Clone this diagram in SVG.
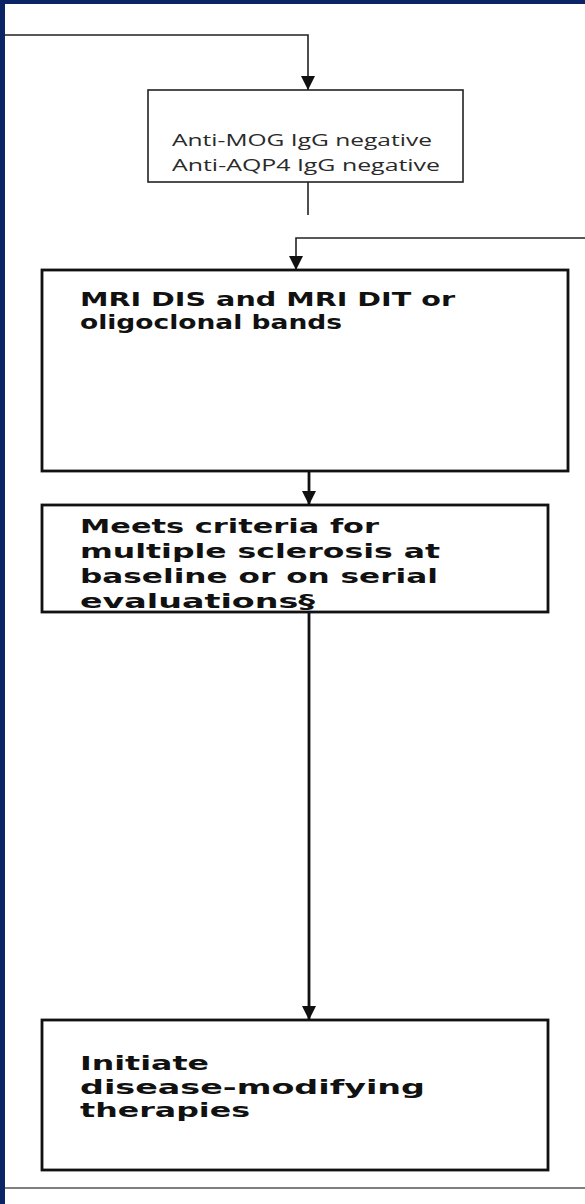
<svg xmlns="http://www.w3.org/2000/svg" width="585" height="1204" viewBox="0 0 585 1204">
  <defs>
    <marker id="arrow" viewBox="0 0 10 10" refX="10" refY="5" markerWidth="14" markerHeight="15" orient="auto" markerUnits="userSpaceOnUse">
      <path d="M0,0 L10,5 L0,10 Z" fill="#111"/>
    </marker>
    <style>
      .frame { fill: #0a2466; }
      .box { fill: #fff; stroke: #222; stroke-width: 1.6; }
      .box-heavy { fill: #fff; stroke: #111; stroke-width: 2.8; }
      .wire { fill: none; stroke: #222; stroke-width: 1.6; }
      .wire-heavy { fill: none; stroke: #111; stroke-width: 2.8; }
      .light { font-family: "Open Sans", "Liberation Sans", sans-serif; font-size: 17px; fill: #2a2a2a; }
      .bold { font-family: "DejaVu Sans", "Liberation Sans", sans-serif; font-size: 20px; font-weight: bold; fill: #111; }
    </style>
  </defs>

  <rect width="585" height="1204" fill="#fff"/>
  <!-- navy page frame -->
  <rect class="frame" x="0" y="0" width="585" height="4"/>
  <rect class="frame" x="0" y="0" width="5" height="1204"/>
  <line x1="5" y1="1188" x2="585" y2="1188" stroke="#555" stroke-width="1.5"/>

  <g id="connectors">
    <path class="wire" d="M5,35 H308 V90" marker-end="url(#arrow)"/>
    <path class="wire" d="M308,182 V215"/>
    <path class="wire" d="M585,238 H296 V270" marker-end="url(#arrow)"/>
    <path class="wire-heavy" d="M309,471 V505" marker-end="url(#arrow)"/>
    <path class="wire-heavy" d="M309,612 V1020" marker-end="url(#arrow)"/>
  </g>

  <g id="antibody-negative">
    <rect class="box" x="148" y="90" width="315" height="92"/>
    <text class="light" x="172" y="146" textLength="260" lengthAdjust="spacingAndGlyphs">Anti-MOG IgG negative</text>
    <text class="light" x="172" y="171" textLength="268" lengthAdjust="spacingAndGlyphs">Anti-AQP4 IgG negative</text>
  </g>

  <g id="mri-dis-dit">
    <rect class="box-heavy" x="42" y="270" width="526" height="201"/>
    <text class="bold" x="80" y="306" textLength="375" lengthAdjust="spacingAndGlyphs">MRI DIS and MRI DIT or</text>
    <text class="bold" x="80" y="329" textLength="262" lengthAdjust="spacingAndGlyphs">oligoclonal bands</text>
  </g>

  <g id="meets-ms-criteria">
    <rect class="box-heavy" x="42" y="505" width="506" height="107"/>
    <text class="bold" x="80" y="533" textLength="299" lengthAdjust="spacingAndGlyphs">Meets criteria for</text>
    <text class="bold" x="80" y="558" textLength="360" lengthAdjust="spacingAndGlyphs">multiple sclerosis at</text>
    <text class="bold" x="80" y="583" textLength="358" lengthAdjust="spacingAndGlyphs">baseline or on serial</text>
    <text class="bold" x="80" y="608" textLength="235" lengthAdjust="spacingAndGlyphs">evaluations§</text>
  </g>

  <g id="initiate-dmt">
    <rect class="box-heavy" x="42" y="1020" width="506" height="150"/>
    <text class="bold" x="80" y="1070" textLength="129" lengthAdjust="spacingAndGlyphs">Initiate</text>
    <text class="bold" x="80" y="1094" textLength="345" lengthAdjust="spacingAndGlyphs">disease-modifying</text>
    <text class="bold" x="80" y="1117" textLength="170" lengthAdjust="spacingAndGlyphs">therapies</text>
  </g>
</svg>
